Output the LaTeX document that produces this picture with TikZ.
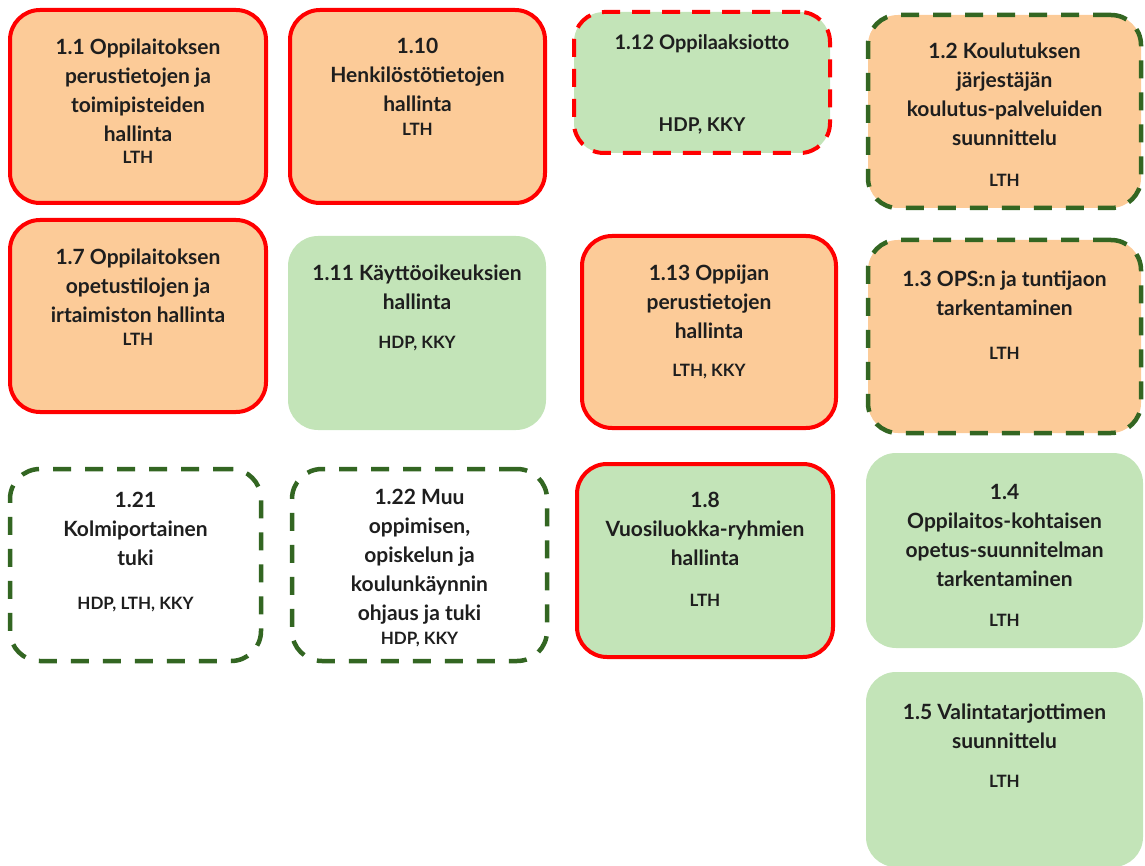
\documentclass[tikz,border=0pt]{standalone}
\usepackage{fontspec}
\setmainfont{Lato}
\usetikzlibrary{positioning}
\definecolor{peach}{HTML}{FCCB98}
\definecolor{mint}{HTML}{C3E4B8}
\definecolor{leaf}{HTML}{336622}
\definecolor{ink}{HTML}{1E1E1E}
\tikzset{
  box/.style={rectangle, rounded corners=30pt, inner sep=0pt},
  redline/.style={draw=red, line width=4pt},
  reddash/.style={draw=red, line width=4pt, dash pattern=on 18pt off 12pt},
  greendash/.style={draw=leaf, line width=4.5pt, dash pattern=on 18pt off 14pt},
  title/.style={align=center, text=ink, font=\bfseries\fontsize{21}{29}\selectfont, inner sep=0pt},
  code/.style={text=ink, font=\bfseries\fontsize{17}{20}\selectfont, inner sep=0pt}
}

\begin{document}
\begin{tikzpicture}[x=1pt, y=-1pt]
			%%%%% START %%%%%
			\useasboundingbox (0,0) rectangle (1145,866);
			
			% column 1
			\node[box, redline, fill=peach, minimum width=256pt, minimum height=193pt] (b11) at (138,106.5) {};
			\node[title] (t11) at (138,90) {1.1 Oppilaitoksen\\perustietojen ja\\toimipisteiden\\hallinta};
			\node[code] (c11) at (138,157) {LTH};
			
			\node[box, redline, fill=peach, minimum width=256pt, minimum height=192pt] (b17) at (138,316) {};
			\node[title] (t17) at (138,285.5) {1.7 Oppilaitoksen\\opetustilojen ja\\irtaimiston hallinta};
			\node[code] (c17) at (138,339) {LTH};
			
			\node[box, greendash, fill=white, minimum width=251pt, minimum height=192pt] (b121) at (135.5,565) {};
			\node[title] (t121) at (135.5,528.5) {1.21\\Kolmiportainen\\tuki};
			\node[code] (c121) at (135.5,605) {HDP, LTH, KKY};
			
			% column 2
			\node[box, redline, fill=peach, minimum width=255pt, minimum height=193pt] (b110) at (417.5,106.5) {};
			\node[title] (t110) at (417.5,75) {1.10\\Henkilöstötietojen\\hallinta};
			\node[code] (c110) at (417.5,129) {LTH};
			
			\node[box, fill=mint, minimum width=258pt, minimum height=194pt] (b111) at (417,333) {};
			\node[title] (t111) at (417,287.5) {1.11 Käyttöoikeuksien\\hallinta};
			\node[code] (c111) at (417,344) {HDP, KKY};
			
			\node[box, greendash, fill=white, minimum width=255pt, minimum height=192pt] (b122) at (419.5,565) {};
			\node[title] (t122) at (419.5,557) {1.22 Muu\\oppimisen,\\opiskelun ja\\koulunkäynnin\\ohjaus ja tuki};
			\node[code] (c122) at (419.5,640) {HDP, KKY};
			
			% column 3
			\node[box, reddash, fill=mint, minimum width=256pt, minimum height=141pt] (b112) at (702,82.5) {};
			\node[title, font=\bfseries\fontsize{20}{26}\selectfont] (t112) at (702,44) {1.12 Oppilaaksiotto};
			\node[code, font=\bfseries\fontsize{19}{22}\selectfont] (c112) at (702,126) {HDP, KKY};
			
			\node[box, redline, fill=peach, minimum width=254pt, minimum height=192pt] (b113) at (709,332) {};
			\node[title] (t113) at (709,301.5) {1.13 Oppijan\\perustietojen\\hallinta};
			\node[code] (c113) at (709,372) {LTH, KKY};
			
			\node[box, redline, fill=mint, minimum width=256pt, minimum height=193pt] (b18) at (705,560.5) {};
			\node[title] (t18) at (705,529) {1.8\\Vuosiluokka-ryhmien\\hallinta};
			\node[code] (c18) at (705,600) {LTH};
			
			% column 4
			\node[box, greendash, fill=peach, minimum width=273pt, minimum height=193pt] (b12) at (1004.5,111.5) {};
			\node[title] (t12) at (1004.5,94.5) {1.2 Koulutuksen\\järjestäjän\\koulutus-palveluiden\\suunnittelu};
			\node[code] (c12) at (1004.5,180) {LTH};
			
			\node[box, greendash, fill=peach, minimum width=273pt, minimum height=193pt] (b13) at (1004.5,336.5) {};
			\node[title] (t13) at (1004.5,293) {1.3 OPS:n ja tuntijaon\\tarkentaminen};
			\node[code] (c13) at (1004.5,353) {LTH};
			
			\node[box, fill=mint, minimum width=277pt, minimum height=195pt] (b14) at (1004.5,550.5) {};
			\node[title] (t14) at (1004.5,535) {1.4\\Oppilaitos-kohtaisen\\opetus-suunnitelman\\tarkentaminen};
			\node[code] (c14) at (1004.5,620) {LTH};
			
			\node[box, fill=mint, minimum width=277pt, minimum height=195pt] (b15) at (1004.5,769.5) {};
			\node[title] (t15) at (1004.5,726.5) {1.5 Valintatarjottimen\\suunnittelu};
			\node[code] (c15) at (1004.5,781) {LTH};
			%%%%% END %%%%%
\end{tikzpicture}
\end{document}
